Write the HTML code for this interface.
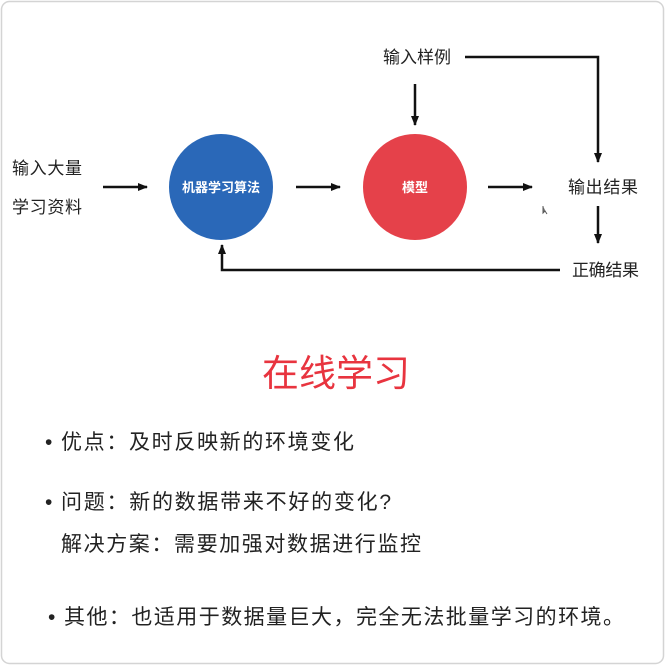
<!DOCTYPE html>
<html><head><meta charset="utf-8"><style>
html,body{margin:0;padding:0;background:#fff}
svg{display:block}
text{font-family:"Liberation Sans","Noto Sans CJK SC",sans-serif;fill:#222}
</style></head><body>
<svg width="665" height="665" viewBox="0 0 665 665" xmlns="http://www.w3.org/2000/svg">
<defs><marker id="a" markerWidth="10" markerHeight="10" refX="9" refY="5" orient="auto" markerUnits="userSpaceOnUse"><path d="M0,1 L10,5 L0,9 Z" fill="#111"/></marker></defs>
<rect x="1.5" y="1.5" width="662" height="662" rx="8" fill="#fff" stroke="#d4d4d4" stroke-width="1.5"/>
<g font-size="17">
<text x="12" y="174" textLength="70">输入大量</text>
<text x="12" y="213" textLength="70">学习资料</text>
<text x="383" y="63" textLength="68">输入样例</text>
<text x="568" y="193" textLength="70">输出结果</text>
<text x="572" y="276" textLength="67">正确结果</text>
</g>
<g stroke="#111" stroke-width="2.5" fill="none" marker-end="url(#a)">
<line x1="103" y1="187" x2="147" y2="187"/>
<line x1="296" y1="187" x2="340" y2="187"/>
<line x1="488" y1="187" x2="532" y2="187"/>
<line x1="415" y1="84" x2="415" y2="125"/>
<polyline points="465,57 598,57 598,162"/>
<line x1="598" y1="206" x2="598" y2="243"/>
<polyline points="560,270 222,270 222,245"/>
</g>
<ellipse cx="221" cy="187" rx="52" ry="53" fill="#2a68b8"/>
<ellipse cx="415" cy="187" rx="52" ry="53" fill="#e5414a"/>
<text x="221" y="192" font-size="13" font-weight="bold" text-anchor="middle" style="fill:#fff">机器学习算法</text>
<text x="415" y="192" font-size="13" font-weight="bold" text-anchor="middle" style="fill:#fff">模型</text>
<text x="262" y="386" font-size="37" textLength="148" style="fill:#e8343f">在线学习</text>
<g font-size="21">
<text x="45" y="449">•</text>
<text x="61" y="449" textLength="293">优点：及时反映新的环境变化</text>
<text x="45" y="509">•</text>
<text x="61" y="509" textLength="330">问题：新的数据带来不好的变化?</text>
<text x="61" y="551" textLength="360">解决方案：需要加强对数据进行监控</text>
<text x="48" y="624">•</text>
<text x="64" y="624" textLength="560">其他：也适用于数据量巨大，完全无法批量学习的环境。</text>
</g>
<path d="M543,206 l0,7 l2,-2 l2,3" stroke="#555" stroke-width="1" fill="#777"/>
</svg>
</body></html>
